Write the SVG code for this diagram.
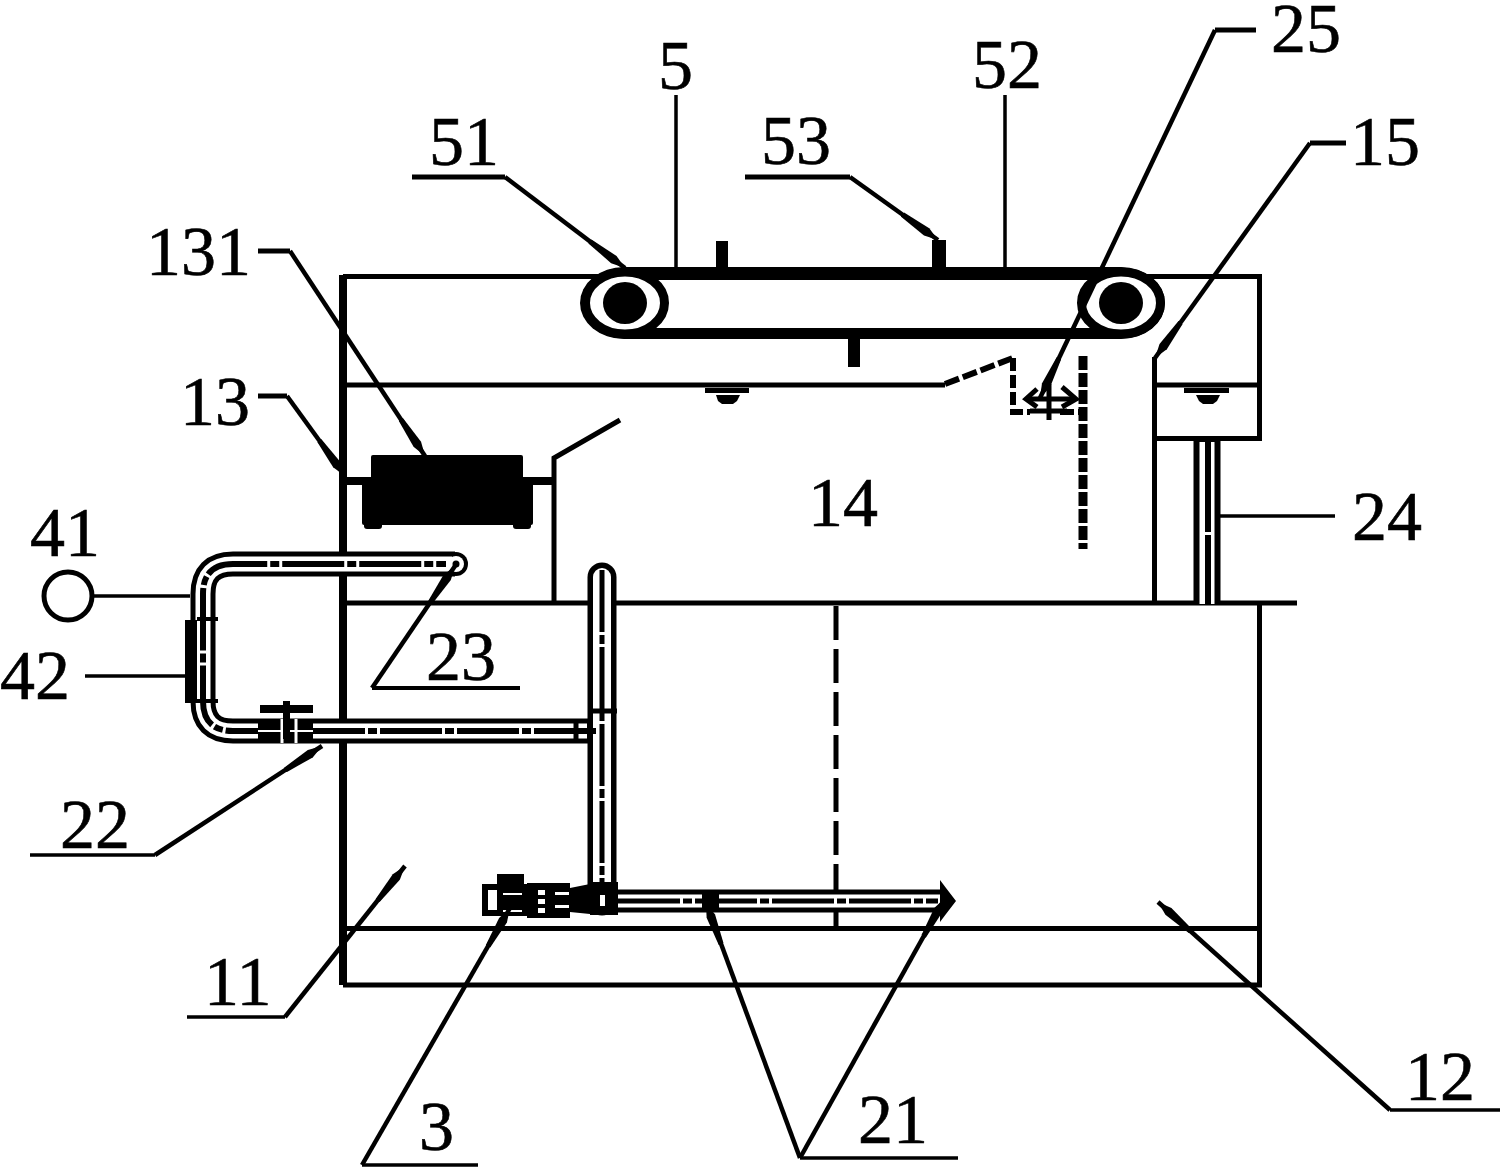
<svg xmlns="http://www.w3.org/2000/svg" width="1502" height="1169" viewBox="0 0 1502 1169">
<style>
text{font-family:"Liberation Serif","Times New Roman",serif;font-size:70px;fill:#000;stroke:#000;stroke-width:.6}
.l{fill:none;stroke:#000;stroke-width:3.5}
.h{fill:none;stroke:#000;stroke-width:5}
.a{fill:none;stroke:#000;stroke-width:4.500;marker-end:url(#tip)}
.t{fill:none;stroke:#000;stroke-width:5}
.d{fill:none;stroke:#000;stroke-width:6;stroke-dasharray:14 4}
.p0{fill:none;stroke:#000;stroke-width:23}
.p1{fill:none;stroke:#fff;stroke-width:13}
.p2{fill:none;stroke:#000;stroke-width:5;stroke-dasharray:62 3 9 3}
</style>
<defs>
<marker id="tip" markerUnits="userSpaceOnUse" markerWidth="48" markerHeight="14" refX="44" refY="7" orient="auto">
<path d="M0 4.500L30 2.500L44 7L30 11.500L0 9.500Z"/>
</marker>
</defs>
<rect width="1502" height="1169" fill="#fff"/>
<g id="tank">
<path class="t" d="M343 276.500H1259.500V438.500H1155M1154.500 357V603M1259.500 603V985H343M343 603H1297M343 928.500H1259.500M345 385H945M1155 385H1259M554 603V458L620 420" />
<path d="M343 275V985M345 481H553" fill="none" stroke="#000" stroke-width="8"/>
<path class="t" d="M836 606V895" style="stroke-dasharray:34 9"/>
<path class="t" d="M836 892V928"/>
<path class="d" d="M945 384L1013 358" style="stroke-dasharray:15 4"/>
<path class="d" d="M1013 358V412H1030" style="stroke-dasharray:13 4"/>
<path class="d" d="M1060 412H1080"/>
<path class="d" d="M1083 356V549" style="stroke-width:9;stroke-dasharray:14 3"/>
</g>
<g id="belt">
<rect x="580" y="267" width="585" height="72" rx="44" ry="36"/>
<rect x="640" y="280" width="465" height="48" fill="#fff"/>
<ellipse cx="625" cy="303" rx="39.500" ry="31" fill="#fff" stroke="#000" stroke-width="9"/>
<ellipse cx="625" cy="303" rx="22" ry="21"/>
<ellipse cx="1121" cy="303" rx="39.500" ry="31" fill="#fff" stroke="#000" stroke-width="9"/>
<ellipse cx="1121" cy="303" rx="22" ry="21"/>
<rect x="716" y="241" width="12" height="28"/>
<rect x="932" y="240" width="14" height="28"/>
<rect x="848" y="336" width="12" height="31"/>
</g>
<g id="nozzles">
<rect x="705" y="388" width="44" height="5"/>
<path d="M716 395H740L737 401L733 404H722L718 401Z"/>
<rect x="1184" y="388" width="45" height="5"/>
<path d="M1196 395H1220L1217 401L1213 404H1203L1199 401Z"/>
</g>
<g id="filter">
<rect x="371" y="455" width="152" height="32" rx="2"/>
<rect x="362" y="482" width="171" height="43" rx="2"/>
<rect x="364" y="520" width="18" height="9" rx="3"/>
<rect x="513" y="520" width="18" height="9" rx="3"/>
</g>
<g id="spray25">
<path d="M1026 399H1076M1049 384V420M1030 411H1067" fill="none" stroke="#000" stroke-width="5"/>
<path d="M1037 389L1026 399L1037 407M1062 387L1076 399L1062 407" fill="none" stroke="#000" stroke-width="5"/>
</g>
<g id="pipes">
<path class="p0" d="M603 731H233Q203 731 203 701V594Q203 564 233 564H455" style="stroke-width:25"/>
<path class="p0" d="M602 577V901" style="stroke-width:29;stroke-linecap:round"/>
<path class="p0" d="M602 901H945"/>
<path class="p0" d="M1207 438V604" style="stroke-width:27"/>
<circle cx="456" cy="564" r="12"/>
<path class="p1" d="M587 731H233Q203 731 203 701V594Q203 564 233 564H452" style="stroke-width:15"/>
<path class="p1" d="M602 577V901" style="stroke-width:18;stroke-linecap:round"/>
<path class="p1" d="M602 901H944"/>
<path class="p1" d="M1207 442V604" style="stroke-width:15"/>
<circle cx="456" cy="564" r="8" fill="#fff"/>
<circle cx="456" cy="564" r="3.500"/>
<path class="p2" d="M602 570V895"/>
<path class="p2" d="M618 901H938"/>
<path class="p2" d="M596 731H233Q203 731 203 701V594Q203 564 233 564H446" style="stroke-width:6"/>
<path class="p2" d="M1208 442V604" style="stroke-width:6;stroke-dasharray:90 3"/>
<path d="M588 711H617" stroke="#000" stroke-width="5"/>
<path d="M576 722V740" stroke="#000" stroke-width="5"/>
<path d="M940 880V922L946 914L956 901L946 888Z"/>
<rect x="702" y="893" width="17" height="16"/>
</g>
<g id="sensor42">
<rect x="185" y="620" width="12" height="83"/>
<rect x="197" y="617" width="21" height="4"/>
<rect x="197" y="699" width="21" height="4"/>
</g>
<g id="valve">
<rect x="258" y="719" width="55" height="24"/>
<path d="M282 719V743M296 719V743" stroke="#fff" stroke-width="3"/>
<path d="M258 731H313" stroke="#fff" stroke-width="2"/>
<rect x="260" y="705" width="53" height="8"/>
<rect x="283" y="701" width="7" height="38"/>
</g>
<g id="pump3">
<rect x="482" y="884" width="48" height="32"/>
<rect x="497" y="874" width="27" height="12"/>
<rect x="488" y="890" width="9" height="20" fill="#fff"/>
<rect x="503" y="893" width="19" height="2" fill="#fff"/>
<rect x="503" y="910" width="19" height="2" fill="#fff"/>
<rect x="527" y="883" width="43" height="35"/>
<rect x="538" y="890" width="7" height="5" fill="#fff"/>
<rect x="538" y="899" width="7" height="5" fill="#fff"/>
<rect x="538" y="908" width="7" height="5" fill="#fff"/>
<rect x="555" y="892" width="14" height="3" fill="#fff"/>
<rect x="555" y="905" width="14" height="3" fill="#fff"/>
<path d="M570 888L590 884V914L570 912Z"/>
<rect x="590" y="882" width="28" height="33"/>
<rect x="600" y="895" width="5" height="11" fill="#fff"/>
</g>
<g id="connectors">
<path class="l" d="M676 95V267M1005 95V267"/>
<path class="h" d="M1215 30H1256"/>
<path class="a" d="M1215 30L1040 398"/>
<path class="h" d="M1310 143H1346"/>
<path class="a" d="M1310 143L1155 358"/>
<path class="h" d="M745 177H850"/>
<path class="a" d="M850 177L938 240"/>
<path class="h" d="M412 177H505"/>
<path class="a" d="M505 177L625 268"/>
<path class="h" d="M258 251H290"/>
<path class="a" d="M290 251L425 456"/>
<path class="h" d="M258 396H287"/>
<path class="a" d="M287 396L345 476"/>
<circle cx="68" cy="596" r="24" fill="#fff" stroke="#000" stroke-width="5"/>
<path class="l" d="M93 596H190"/>
<path class="l" d="M85 676H186"/>
<path class="a" d="M372 688L455 566"/>
<path class="h" d="M372 688H520" style="stroke-width:4"/>
<path class="l" d="M1218 516H1335"/>
<path class="l" d="M30 855H155"/>
<path class="a" d="M155 855L322 746"/>
<path class="l" d="M187 1017H285"/>
<path class="a" d="M285 1017L405 866"/>
<path class="l" d="M362 1165H478"/>
<path class="a" d="M362 1165L510 908"/>
<path class="l" d="M800 1158H958"/>
<path class="a" d="M800 1158L706 903"/>
<path class="a" d="M800 1158L945 898"/>
<path class="l" d="M1390 1110H1500"/>
<path class="a" d="M1390 1110L1158 902"/>
</g>
<g id="labels">
<text x="658" y="89">5</text>
<text x="972" y="88">52</text>
<text x="1271" y="52">25</text>
<text x="1350" y="165">15</text>
<text x="761" y="164">53</text>
<text x="429" y="165">51</text>
<text x="146" y="275">131</text>
<text x="180" y="425">13</text>
<text x="808" y="526">14</text>
<text x="30" y="556">41</text>
<text x="0" y="699">42</text>
<text x="426" y="680">23</text>
<text x="1352" y="540">24</text>
<text x="60" y="848">22</text>
<text x="204" y="1005">11</text>
<text x="419" y="1150">3</text>
<text x="858" y="1143">21</text>
<text x="1405" y="1100">12</text>
</g>
</svg>
